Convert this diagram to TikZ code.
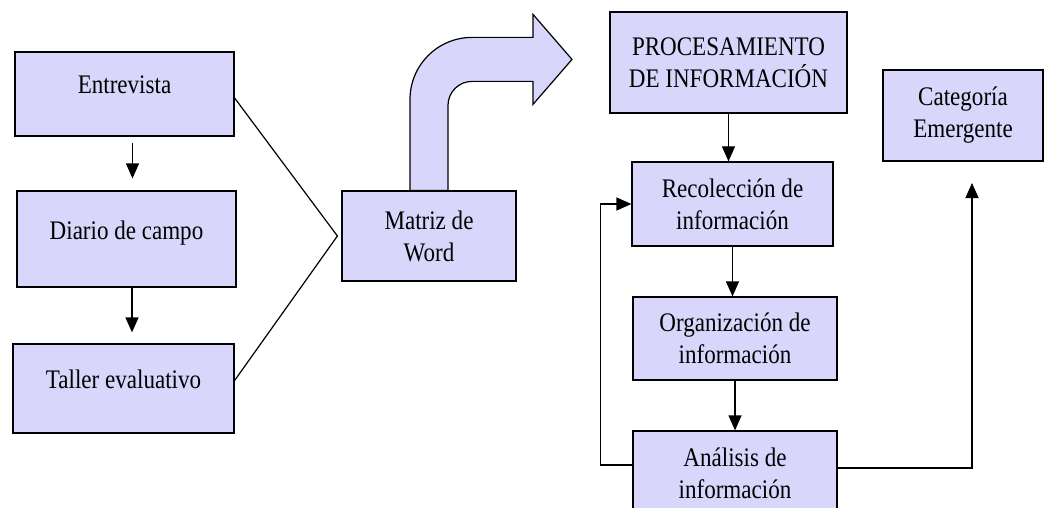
\documentclass[tikz,border=0pt]{standalone}
\usepackage{fontspec}
\setmainfont[FakeStretch=0.86]{Liberation Serif}
\usetikzlibrary{arrows.meta}

\definecolor{boxfill}{RGB}{217,214,251}

\tikzset{
  box/.style={draw,fill=boxfill,line width=0.6pt,align=center,inner sep=0pt,
              font=\fontsize{13.4}{16}\selectfont},
  oneline/.style={text height=9pt,text depth=9pt},
  link/.style={line width=0.6pt},
  arr/.style={link,-{Triangle[length=7.5pt,width=6.5pt]}},
  bentarrow/.style={draw,fill=boxfill,line width=0.6pt}
}

\begin{document}
\begin{tikzpicture}[x=0.5pt,y=-0.5pt]
  \useasboundingbox (0,0) rectangle (1044,508);

  % left column
  \node[box,oneline,minimum width=109.5pt,minimum height=42pt] (entrev) at (124.5,94) {Entrevista};
  \node[box,oneline,minimum width=109.5pt,minimum height=48pt] (diario) at (126.5,239) {Diario de campo};
  \node[box,oneline,minimum width=110.5pt,minimum height=44.5pt] (taller) at (123.5,388.5) {Taller evaluativo};

  \node[box,minimum width=87pt,minimum height=45pt] (matriz) at (429,236) {Matriz de\\Word};

  % right column
  \node[box,minimum width=118.5pt,minimum height=50.5pt] (proces) at (728.5,62.5) {PROCESAMIENTO\\DE INFORMACIÓN};
  \node[box,minimum width=100.5pt,minimum height=42pt] (recol) at (732.5,204) {Recolección de\\información};
  \node[box,minimum width=102pt,minimum height=41.5pt] (organ) at (735,338.5) {Organización de\\información};
  \node[box,minimum width=102pt,minimum height=42.5pt] (anali) at (735,473.5) {Análisis de\\información};
  \node[box,minimum width=80pt,minimum height=45.5pt] (categ) at (963,115.5) {Categoría\\Emergente};

  \coordinate (meet) at ([xshift=-2pt]matriz.west);
  \coordinate (catin) at (972,183);

  \draw[arr,shorten <=3pt,shorten >=6pt] ([xshift=4pt]entrev.south) -- ([xshift=4pt]entrev.south |- diario.north);
  \draw[arr,shorten >=5.5pt] ([xshift=2.75pt]diario.south) -- ([xshift=2.75pt]diario.south |- taller.north);

  \draw[link] ([yshift=-2pt]entrev.east) -- (meet) -- ([yshift=4pt]taller.east);

  % bent arrow over Matriz de Word
  \draw[bentarrow] (matriz.north) ++(-19,0) -- ++(0,-91)
    arc[start angle=180,end angle=270,radius=62] -- ++(61,0) -- ++(0,-23)
    -- ++(39,45) -- ++(-39,45) -- ++(0,-23) -- ++(-61,0)
    arc[start angle=270,end angle=180,radius=24] -- ++(0,85) -- cycle;

  \draw[arr] (proces.south) -- (proces.south |- recol.north);
  \draw[arr] (recol.south) -- (recol.south |- organ.north);
  \draw[arr] (organ.south) -- (anali.north);

  \draw[arr] ([yshift=4.25pt]anali.west) -- ++(-32,0) |- (recol.west);
  \draw[arr] ([yshift=2.75pt]anali.east) -| (catin);

\end{tikzpicture}
\end{document}
